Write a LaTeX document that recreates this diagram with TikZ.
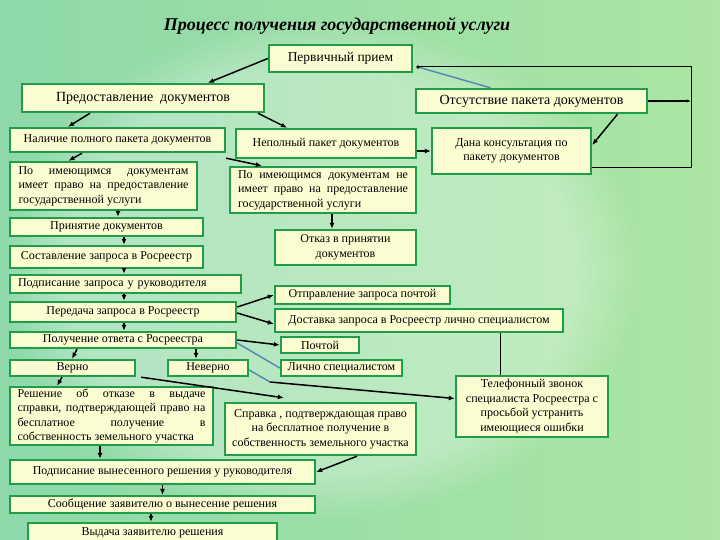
\documentclass[tikz,border=0pt]{standalone}
\usepackage{fontspec}
\setmainfont{Liberation Serif}
\usetikzlibrary{arrows.meta,fadings,calc}
\definecolor{boxfill}{HTML}{FDFDD2}
\definecolor{boxline}{HTML}{1E9E48}
\definecolor{bgl}{HTML}{8ED8AA}
\definecolor{bgr}{HTML}{ABE6A2}
\definecolor{steel}{HTML}{4E86B4}
\newcommand\bx[7][]{%
  \node[box,#1,minimum width={(#5-#3)*1pt},minimum height={(#6-#4)*1pt}] (#2) at ({(#3+#5)/2},{(#4+#6)/2}) {#7};}
\begin{document}
\begin{tikzpicture}[x=1pt,y=-1pt,
  box/.style={draw=boxline,fill=boxfill,line width=2.4pt,inner sep=0pt,align=center,
    font=\fontsize{12}{14.5}\selectfont},
  big/.style={font=\fontsize{14}{16}\selectfont},
  jus/.style={align=justify,text width=#1},
  arr/.style={-{Latex[length=6pt,width=5pt]},line width=1.5pt},
  thinl/.style={line width=1pt},
  blue/.style={draw=steel,line width=1.4pt}]
\useasboundingbox (0,0) rectangle (720,540);
\shade[left color=bgl,right color=bgr] (0,0) rectangle (720,540);
\fill[white,opacity=0.3,path fading=circle with fuzzy edge 20 percent] (320,270) ellipse (320 and 250);

\node[font=\fontsize{18}{20}\selectfont\bfseries\itshape] (title) at (337,26) {Процесс получения государственной услуги};

\bx[font=\fontsize{13.5}{16}\selectfont]{perv}{269}{45}{412}{72}{Первичный прием}
\bx[big]{pred}{22}{84}{264}{112}{Предоставление~ документов}
\bx[big]{ots}{416}{89}{647}{113}{Отсутствие пакета документов}
\bx{nal}{10}{128}{225}{152}{Наличие полного пакета документов}
\bx{nep}{236}{129}{416}{158}{Неполный пакет документов}
\bx{dana}{432}{128}{591}{174}{Дана консультация по\\пакету документов}
\bx[jus=170pt]{imeet}{10}{162}{197}{210}{По имеющимся документам\linebreak имеет право на предоставление\linebreak государственной услуги}
\bx[jus=170pt]{neim}{230}{167}{416}{213}{По имеющимся документам не\linebreak имеет право на предоставление\linebreak государственной услуги}
\bx{prin}{10}{218}{203}{236}{Принятие документов}
\bx{otk}{275}{230}{416}{265}{Отказ в принятии\\документов}
\bx{sost}{10}{246}{203}{268}{Составление запроса в Росреестр}
\bx[align=left,text width=215pt]{podp}{10}{275}{241}{293}{Подписание запроса у руководителя}
\bx{otpr}{275}{286}{450}{304}{Отправление запроса почтой}
\bx{pered}{10}{302}{236}{322}{Передача запроса в Росреестр}
\bx{dost}{275}{309}{563}{332}{Доставка запроса в Росреестр лично специалистом}
\bx{poluch}{10}{332}{236}{348}{Получение ответа с Росреестра}
\bx{pocht}{281}{337}{359}{353}{Почтой}
\bx{verno}{10}{360}{135}{376}{Верно}
\bx{never}{168}{360}{248}{376}{Неверно}
\bx{lichno}{281}{360}{402}{376}{Лично специалистом}
\bx[jus=188pt]{resh}{10}{387}{213}{445}{Решение об отказе в выдаче\linebreak справки, подтверждающей право на\linebreak бесплатное получение в\linebreak собственность земельного участка}
\bx{sprav}{225}{403}{416}{455}{Справка , подтверждающая право\\на бесплатное получение в\\собственность земельного участка}
\bx{tel}{456}{376}{608}{437}{Телефонный звонок\\специалиста Росреестра с\\просьбой устранить\\имеющиеся ошибки}
\bx{podv}{10}{460}{315}{484}{Подписание вынесенного решения у руководителя}
\bx{soob}{10}{496}{315}{513}{Сообщение заявителю о вынесение решения}
\bx{vyd}{28}{523}{277}{542}{Выдача заявителю решения}

% top loop
\coordinate (c1) at (418,67);
\coordinate (c2) at (691,67);
\coordinate (c3) at (691,168);
\coordinate (c4) at (270,382);
\draw[blue] (c1) -- ([xshift=-41pt]ots.north);
\draw[thinl] (c1) -- (c2) -- (c3) -- (c3 -| dana.east);
\fill (c1) circle (1.8pt);
\draw[-{Latex[length=4.5pt,width=3.5pt]},line width=1.1pt] (ots.east) -- (ots.east -| c2);
\draw[arr] ([xshift=86pt]ots.south) -- ([yshift=6pt]dana.east);

\draw[arr] (perv.west) -- ([xshift=65pt]pred.north);
\draw[arr] ([xshift=-53pt]pred.south) -- ([xshift=-49.5pt]nal.north);
\draw[arr] ([xshift=115pt]pred.south) -- ([xshift=-39pt]nep.north);
\draw[arr] ([yshift=-5pt]nal.south east) -- ([xshift=33pt]neim.north west);
\draw[arr] ([yshift=-7.5pt]nep.east) -- ([yshift=-7.5pt]nep.east -| dana.west);
\draw[arr] ([xshift=-35.5pt]nal.south) -- ([xshift=-35pt]imeet.north);
\draw[arr] ([xshift=14.5pt]imeet.south) -- ([xshift=11.5pt]prin.north);
\draw[arr] ([xshift=17.5pt]prin.south) -- ([xshift=17.5pt]sost.north);
\draw[arr] ([xshift=17.5pt]sost.south) -- ([xshift=-1.5pt]podp.north);
\draw[arr] ([xshift=-1.5pt]podp.south) -- ([xshift=1pt]pered.north);
\draw[arr] ([xshift=1pt]pered.south) -- ([xshift=1pt]poluch.north);
\draw[arr] ([yshift=5pt]pered.east) -- (otpr.west);
\draw[arr] ([yshift=-1pt]pered.east) -- ([yshift=-3.5pt]dost.west);
\draw[arr] ([xshift=9pt]neim.south) -- ([xshift=-13.5pt]otk.north);
\draw[arr] (poluch.east) -- (pocht.west);
\draw[blue] ([yshift=-3pt]poluch.east) -- (lichno.west);
\draw[arr] ([xshift=-46pt]poluch.south) -- ([xshift=-0.5pt]verno.north);
\draw[arr] ([xshift=73pt]poluch.south) -- ([xshift=-12pt]never.north);
\draw[arr] ([xshift=5pt]verno.south east) -- ([xshift=60pt,yshift=4pt]sprav.north west);
\draw[blue] ([yshift=-2pt]never.east) -- (c4);
\draw[arr] (c4) -- ([yshift=8pt]tel.west);
\draw[arr] ([xshift=-10.5pt]verno.south) -- ([xshift=-54.5pt]resh.north);
\draw[thinl] ([xshift=81pt]dost.south) -- ([xshift=-32pt]tel.north);
\draw[arr] ([xshift=-11.5pt]resh.south) -- ([xshift=-62.5pt]podv.north);
\draw[arr] ([xshift=36.5pt]sprav.south) -- (podv.east);
\draw[arr] (podv.south) -- (soob.north);
\draw[arr] ([xshift=-11.5pt]soob.south) -- ([xshift=-1.5pt]vyd.north);
\end{tikzpicture}
\end{document}
